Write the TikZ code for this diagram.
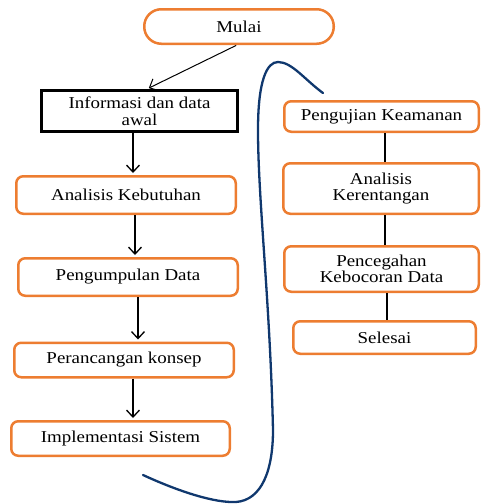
\documentclass[tikz,border=0pt]{standalone}
\usepackage{fontspec}
\setmainfont{Liberation Serif}[FakeStretch=1.14]
\usetikzlibrary{arrows.meta}
\definecolor{boxorange}{RGB}{237,125,49}
\definecolor{loopblue}{RGB}{16,56,110}
\tikzset{
  stepbox/.style={draw=boxorange, line width=2.5pt, rounded corners=7pt, fill=white,
    align=center, inner sep=1pt, font=\fontsize{16.6}{16.5}\selectfont},
  startbox/.style={stepbox, rounded corners=17pt},
  databox/.style={draw=black, line width=3pt, fill=white, align=center, inner sep=1pt,
    font=\fontsize{16.6}{16.5}\selectfont},
  flow/.style={-{Straight Barb[length=7pt,width=13pt]}, line width=1.3pt, shorten >=2pt},
  link/.style={line width=1.5pt}
}
\begin{document}
\begin{tikzpicture}[x=1pt,y=-1pt]
  \useasboundingbox (0,0) rectangle (481,504);
  % Left column
  \node[startbox, minimum width=189.5pt, minimum height=34.5pt] (mulai) at (239,26.5) {Mulai};
  \node[databox, minimum width=196pt, minimum height=41pt] (info) at (139.5,111) {Informasi dan data\\awal};
  \node[stepbox, minimum width=219.5pt, minimum height=37.5pt] (butuh) at (126,195) {Analisis Kebutuhan};
  \node[stepbox, minimum width=219.5pt, minimum height=37.5pt] (kumpul) at (128,277) {Pengumpulan Data};
  \node[stepbox, minimum width=219.5pt, minimum height=34.5pt] (rancang) at (124,360) {Perancangan konsep};
  \node[stepbox, minimum width=218.5pt, minimum height=34.5pt] (implement) at (120.5,438.5) {Implementasi Sistem};
  % Right column
  \node[stepbox, minimum width=194.5pt, minimum height=30.5pt] (uji) at (381.5,116.5) {Pengujian Keamanan};
  \node[stepbox, minimum width=195.5pt, minimum height=50.5pt] (rentan) at (381,188.5) {Analisis\\Kerentangan};
  \node[stepbox, minimum width=194.5pt, minimum height=45.5pt] (cegah) at (381.5,269) {Pencegahan\\Kebocoran Data};
  \node[stepbox, minimum width=182.5pt, minimum height=32.5pt] (selesai) at (384.5,337.5) {Selesai};
  % Arrows on the left
  \draw[flow, line width=1pt, shorten <=1pt] ([xshift=-2pt]mulai.south) -- ([xshift=7.5pt]info.north);
  \draw[flow] ([xshift=-6.5pt]info.south) -- ([xshift=-6.5pt]info.south |- butuh.north);
  \draw[flow] ([xshift=9pt]butuh.south) -- ([xshift=9pt]butuh.south |- kumpul.north);
  \draw[flow] ([xshift=10pt]kumpul.south) -- ([xshift=10pt]kumpul.south |- rancang.north);
  \draw[flow] ([xshift=9pt]rancang.south) -- ([xshift=9pt]rancang.south |- implement.north);
  % Lines on the right
  \draw[link] ([xshift=3.5pt]uji.south) -- ([xshift=3.5pt]uji.south |- rentan.north);
  \draw[link] ([xshift=4pt]rentan.south) -- ([xshift=4pt]rentan.south |- cegah.north);
  \draw[link] ([xshift=5.5pt]cegah.south) -- ([xshift=5.5pt]cegah.south |- selesai.north);
  % Blue loop
  \draw[loopblue, line width=2.3pt, line cap=round]
    (143,475) .. controls (180,492) and (215,503) .. (236,502)
    .. controls (262,500) and (273,470) .. (273,430)
    .. controls (270,300) and (258,200) .. (258,130)
    .. controls (258,80) and (267,62) .. (278,62)
    .. controls (292,62) and (305,80) .. (323,93);
\end{tikzpicture}
\end{document}
